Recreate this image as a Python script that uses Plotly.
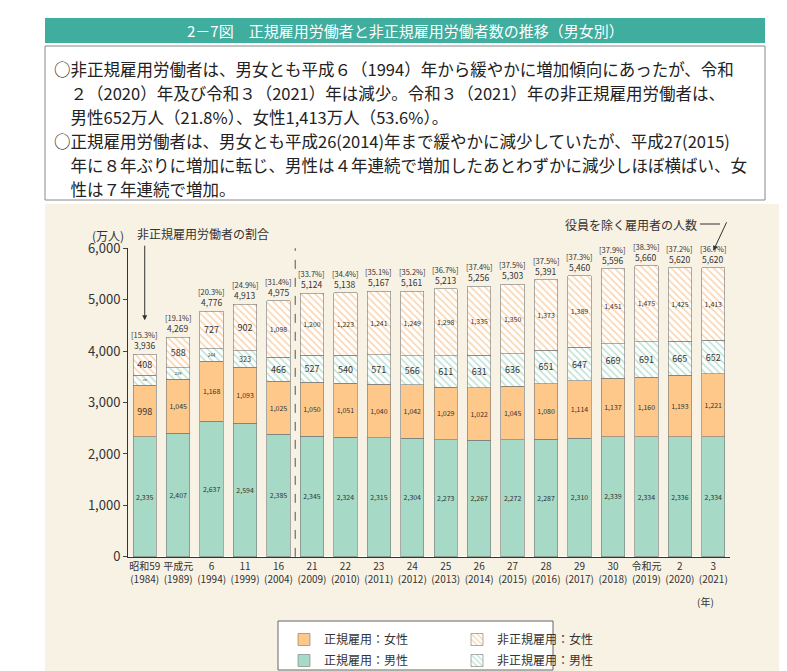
import plotly.graph_objects as go

years = ["昭和59<br>(1984)", "平成元<br>(1989)", "6<br>(1994)", "11<br>(1999)", "16<br>(2004)",
         "21<br>(2009)", "22<br>(2010)", "23<br>(2011)", "24<br>(2012)", "25<br>(2013)",
         "26<br>(2014)", "27<br>(2015)", "28<br>(2016)", "29<br>(2017)", "30<br>(2018)",
         "令和元<br>(2019)", "2<br>(2020)", "3<br>(2021)"]
reg_male = [2335, 2407, 2637, 2594, 2385, 2345, 2324, 2315, 2304, 2273, 2267, 2272, 2287, 2310, 2339, 2334, 2336, 2334]
reg_female = [998, 1045, 1168, 1093, 1025, 1050, 1051, 1040, 1042, 1029, 1022, 1045, 1080, 1114, 1137, 1160, 1193, 1221]
nonreg_male = [195, 229, 244, 323, 466, 527, 540, 571, 566, 611, 631, 636, 651, 647, 669, 691, 665, 652]
nonreg_female = [408, 588, 727, 902, 1098, 1200, 1223, 1241, 1249, 1298, 1335, 1350, 1373, 1389, 1451, 1475, 1425, 1413]
totals = [3936, 4269, 4776, 4913, 4975, 5124, 5138, 5167, 5161, 5213, 5256, 5303, 5391, 5460, 5596, 5660, 5620, 5620]
ratios = [15.3, 19.1, 20.3, 24.9, 31.4, 33.7, 34.4, 35.1, 35.2, 36.7, 37.4, 37.5, 37.5, 37.3, 37.9, 38.3, 37.2, 36.7]

GREEN = "#a6dac6"
ORANGE = "#fdc889"
GREEN_D = "#7cc3a6"
ORANGE_D = "#f5a75a"
BEIGE = "#f8f2e4"

fig = go.Figure()

def fmt(v):
    return f"{v:,}"

def py(p):
    # pixel from top -> paper y
    return 1 - p / 671

fig.add_trace(go.Bar(x=years, y=reg_male, name="正規雇用：男性", legend="legend2",
                     marker=dict(color=GREEN, line=dict(color="#777", width=0.6)),
                     text=[fmt(v) for v in reg_male], textposition="inside", insidetextanchor="middle",
                     textfont=dict(size=9, color="#333"), textangle=0))
fig.add_trace(go.Bar(x=years, y=reg_female, name="正規雇用：女性", legend="legend",
                     marker=dict(color=ORANGE, line=dict(color="#777", width=0.6)),
                     text=[fmt(v) for v in reg_female], textposition="inside", insidetextanchor="middle",
                     textfont=dict(size=9, color="#333"), textangle=0))
fig.add_trace(go.Bar(x=years, y=nonreg_male, name="非正規雇用：男性", legend="legend2",
                     marker=dict(color="white", line=dict(color="#777", width=0.6),
                                 pattern=dict(shape="\\", fgcolor=GREEN_D, bgcolor="white", size=5, solidity=0.3)),
                     text=[fmt(v) for v in nonreg_male], textposition="inside", insidetextanchor="middle",
                     textfont=dict(size=9, color="#333"), textangle=0))
fig.add_trace(go.Bar(x=years, y=nonreg_female, name="非正規雇用：女性", legend="legend",
                     marker=dict(color="white", line=dict(color="#777", width=0.6),
                                 pattern=dict(shape="\\", fgcolor=ORANGE_D, bgcolor="white", size=5, solidity=0.3)),
                     text=[fmt(v) for v in nonreg_female], textposition="inside", insidetextanchor="middle",
                     textfont=dict(size=9, color="#333"), textangle=0))

annotations = []
for x, t, r in zip(years, totals, ratios):
    annotations.append(dict(x=x, y=t, text=fmt(t), showarrow=False, yanchor="bottom", yshift=1,
                            font=dict(size=8.5, color="#333")))
    annotations.append(dict(x=x, y=t, text=f"[{r}%]", showarrow=False, yanchor="bottom", yshift=12,
                            font=dict(size=7.5, color="#333")))

# arrows & labels
annotations.append(dict(x=years[0], y=4600, ax=0, ay=-76, text="", showarrow=True, arrowhead=2,
                        arrowsize=1, arrowwidth=1, arrowcolor="#333"))
annotations.append(dict(xref="paper", yref="paper", x=127 / 787, y=py(226), text="非正規雇用労働者の割合",
                        showarrow=False, xanchor="left", yanchor="middle", font=dict(size=12, color="#333")))
annotations.append(dict(x=years[-1], y=5950, ax=14, ay=-30, text="", showarrow=True, arrowhead=2,
                        arrowsize=1, arrowwidth=1, arrowcolor="#333"))
annotations.append(dict(xref="paper", yref="paper", x=691 / 787, y=py(216), text="役員を除く雇用者の人数",
                        showarrow=False, xanchor="right", yanchor="middle", font=dict(size=12, color="#333")))
annotations.append(dict(xref="paper", yref="paper", x=100 / 787, y=py(227), text="(万人)",
                        showarrow=False, xanchor="center", yanchor="middle", font=dict(size=12, color="#333")))
annotations.append(dict(xref="paper", yref="paper", x=697 / 787, y=py(593), text="(年)",
                        showarrow=False, xanchor="center", yanchor="middle", font=dict(size=10, color="#333")))

# title banner
annotations.append(dict(xref="paper", yref="paper", x=397 / 787, y=py(22),
                        text="2－7図　正規雇用労働者と非正規雇用労働者数の推移（男女別）",
                        showarrow=False, yanchor="middle", font=dict(size=15, color="white")))
lines = [
    "○非正規雇用労働者は、男女とも平成６（1994）年から緩やかに増加傾向にあったが、令和",
    "　２（2020）年及び令和３（2021）年は減少。令和３（2021）年の非正規雇用労働者は、",
    "　男性652万人（21.8%）、女性1,413万人（53.6%）。",
    "○正規雇用労働者は、男女とも平成26(2014)年まで緩やかに減少していたが、平成27(2015)",
    "　年に８年ぶりに増加に転じ、男性は４年連続で増加したあとわずかに減少しほぼ横ばい、女",
    "　性は７年連続で増加。",
]
for i, ln in enumerate(lines):
    annotations.append(dict(xref="paper", yref="paper", x=44 / 787, y=py(61 + i * 24), text=ln,
                            showarrow=False, xanchor="left", yanchor="middle", font=dict(size=16.5, color="#222")))

shapes = [
    dict(type="rect", xref="paper", yref="paper", x0=37 / 787, x1=1, y0=0, y1=py(196),
         fillcolor=BEIGE, line=dict(width=0), layer="below"),
    dict(type="rect", xref="paper", yref="paper", x0=37 / 787, x1=757 / 787, y0=py(35), y1=py(10),
         fillcolor="#3fae9f", line=dict(width=0), layer="below"),
    dict(type="rect", xref="paper", yref="paper", x0=37 / 787, x1=757 / 787, y0=py(192), y1=py(38),
         fillcolor="white", line=dict(color="#888", width=1), layer="below"),
    dict(type="rect", xref="paper", yref="paper", x0=270 / 787, x1=545 / 787, y0=py(662), y1=py(613),
         fillcolor="white", line=dict(color="#666", width=1), layer="below"),
    dict(type="line", xref="paper", yref="paper", x0=692 / 787, x1=712 / 787, y0=py(216), y1=py(216),
         line=dict(color="#333", width=1)),
    dict(type="line", xref="x", yref="paper", x0=4.5, x1=4.5, y0=0.182, y1=0.642,
         line=dict(color="#555", width=1, dash="dash")),
]

fig.update_layout(
    width=787, height=671, margin=dict(l=0, r=0, t=0, b=0, autoexpand=False),
    paper_bgcolor="white", plot_bgcolor="rgba(0,0,0,0)",
    font=dict(family="Noto Sans CJK JP", color="#333"),
    barmode="stack", bargap=0.3,
    xaxis=dict(domain=[120 / 787, 722 / 787], showline=True, linecolor="#333", ticks="",
               tickfont=dict(size=10), tickangle=0, automargin=False),
    yaxis=dict(domain=[0.182, 0.642], range=[0, 6000], dtick=1000, tickformat=",",
               showgrid=False, showline=True, linecolor="#333", ticks="outside", ticklen=4,
               tickfont=dict(size=13), automargin=False),
    legend=dict(orientation="h", x=276 / 787, y=py(617), xanchor="left", yanchor="top",
                bgcolor="rgba(0,0,0,0)", font=dict(size=12), entrywidth=128, traceorder="normal"),
    legend2=dict(orientation="h", x=276 / 787, y=py(638), xanchor="left", yanchor="top",
                 bgcolor="rgba(0,0,0,0)", font=dict(size=12), entrywidth=128, traceorder="normal"),
    annotations=annotations, shapes=shapes,
)
fig.write_html("out.html")
